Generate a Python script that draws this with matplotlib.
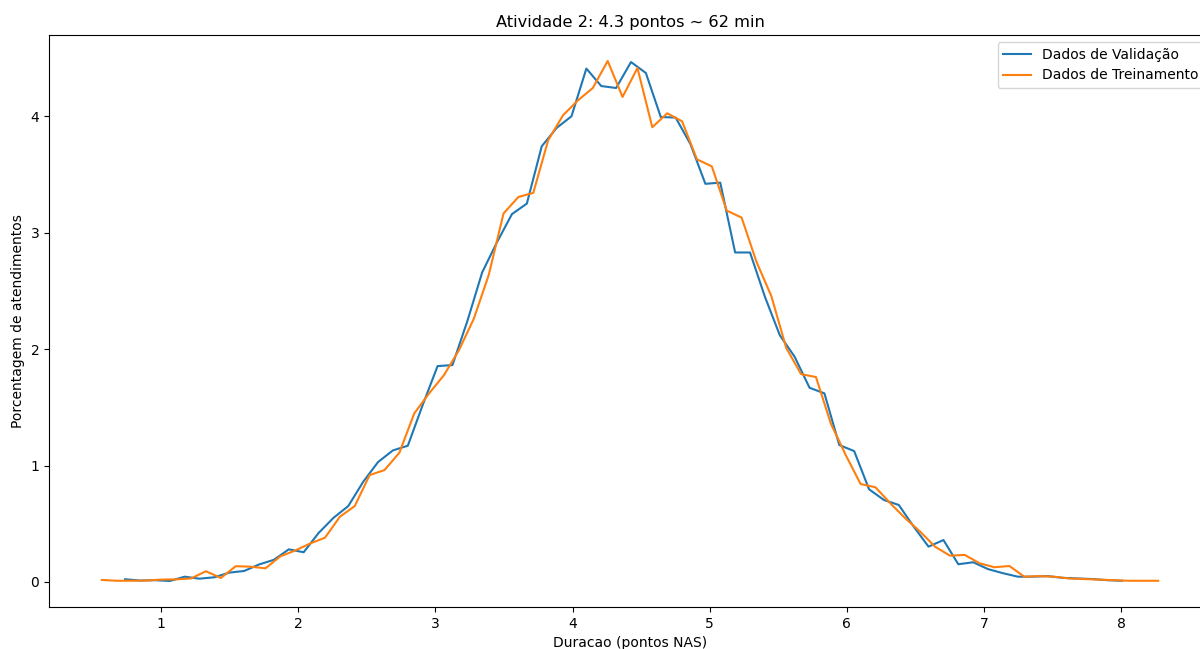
import numpy as np
import matplotlib
matplotlib.use("Agg")
import matplotlib.pyplot as plt

# bin grid (centres)
x_step = 0.1085
val_x0 = 0.737
train_x0 = 0.567

val_y = [0.023, 0.012, 0.015, 0.008, 0.045, 0.028, 0.04, 0.08, 0.094, 0.15,
         0.19, 0.28, 0.255, 0.42, 0.55, 0.652, 0.86, 1.03, 1.13, 1.17,
         1.52, 1.854, 1.863, 2.24, 2.66, 2.92, 3.16, 3.25, 3.742, 3.90,
         4.0, 4.41, 4.26, 4.243, 4.466, 4.372, 3.994, 3.989, 3.76, 3.42,
         3.43, 2.83, 2.83, 2.45, 2.12, 1.934, 1.668, 1.62, 1.176, 1.124,
         0.796, 0.704, 0.661, 0.475, 0.303, 0.36, 0.152, 0.169, 0.11, 0.075,
         0.045, 0.045, 0.05, 0.035, 0.03, 0.025, 0.015, 0.01]

train_y = [0.017, 0.01, 0.01, 0.012, 0.02, 0.022, 0.03, 0.092, 0.034, 0.135,
           0.131, 0.117, 0.22, 0.27, 0.33, 0.38, 0.56, 0.652, 0.918, 0.961,
           1.11, 1.448, 1.62, 1.777, 1.99, 2.26, 2.635, 3.165, 3.307, 3.342,
           3.794, 4.009, 4.137, 4.243, 4.475, 4.166, 4.415, 3.906, 4.026, 3.957,
           3.63, 3.57, 3.19, 3.13, 2.75, 2.455, 2.01, 1.785, 1.76, 1.36,
           1.09, 0.841, 0.813, 0.675, 0.547, 0.432, 0.303, 0.226, 0.232, 0.16,
           0.126, 0.137, 0.045, 0.05, 0.045, 0.03, 0.025, 0.02, 0.015, 0.01,
           0.01, 0.01]

val_x = val_x0 + x_step * np.arange(len(val_y))
train_x = train_x0 + x_step * np.arange(len(train_y))

fig = plt.figure(figsize=(12, 6.49), dpi=100)
# the original picture is cut on the right, so the axes runs past the edge
ax = fig.add_axes([49 / 1200, 42 / 649, 1162 / 1200, 572 / 649])

ax.plot(val_x, val_y, label='Dados de Validação')
ax.plot(train_x, train_y, label='Dados de Treinamento')

ax.set_title('Atividade 2: 4.3 pontos ~ 62 min', fontsize=11.7)
ax.set_xlabel('Duracao (pontos NAS)')
ax.set_ylabel('Porcentagem de atendimentos')
ax.legend(loc='upper right')

fig.savefig('out.png', dpi=100)
